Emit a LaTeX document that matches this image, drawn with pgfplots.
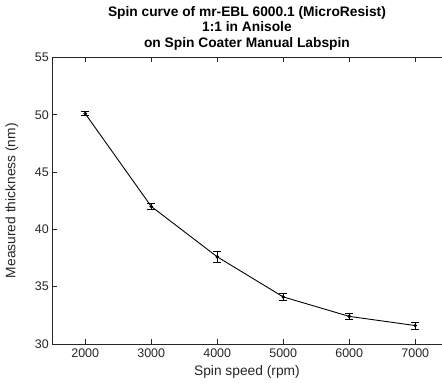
\documentclass[border=0pt]{standalone}
\usepackage{pgfplots}
\pgfplotsset{compat=1.18}
\usepackage{fontspec}
\setmainfont{Liberation Sans}
\definecolor{axgray}{rgb}{0.15,0.15,0.15}
\begin{document}
\begin{tikzpicture}
\begin{axis}[
  scale only axis,
  width=393pt, height=289pt,
  xmin=1500, xmax=7400,
  ymin=30, ymax=55,
  axis x line*=box,
  axis y line*=left,
  axis line style={axgray, line width=0.7pt},
  xtick={2000,3000,4000,5000,6000,7000},
  ytick={30,35,40,45,50,55},
  minor tick num=0,
  tick align=inside,
  major tick length=5pt,
  every tick/.style={axgray, line width=0.7pt},
  /pgf/number format/assume math mode=true,
  /pgf/number format/1000 sep={},
  ticklabel style={font=\fontsize{12.6}{14}\selectfont, text=axgray},
  xticklabel style={yshift=-1pt},
  yticklabel style={xshift=0pt},
  xlabel={Spin speed (rpm)},
  ylabel={Measured thickness (nm)},
  label style={font=\fontsize{13.9}{15}\selectfont, text=axgray},
  xlabel style={yshift=-2pt},
  ylabel style={yshift=10pt},
  title={Spin curve of mr-EBL 6000.1 (MicroResist)\\1:1 in Anisole\\on Spin Coater Manual Labspin},
  title style={align=center, font=\bfseries\fontsize{13.9}{15.6}\selectfont, yshift=-2pt},
  clip=false,
]
\addplot[black, line width=0.9pt, mark=*, mark size=1.3pt,
  error bars/.cd, y dir=both, y explicit,
  error bar style={black, line width=0.9pt},
  error mark options={black, rotate=90, mark size=3.8pt, line width=0.9pt}]
coordinates {
  (2000,50.1) +- (0,0.2)
  (3000,42.0) +- (0,0.25)
  (4000,37.6) +- (0,0.45)
  (5000,34.1) +- (0,0.3)
  (6000,32.4) +- (0,0.3)
  (7000,31.6) +- (0,0.3)
};
\end{axis}
\path ([xshift=-2pt]current bounding box.south west);
\path ([yshift=3pt]current bounding box.north);
\end{tikzpicture}
\end{document}
